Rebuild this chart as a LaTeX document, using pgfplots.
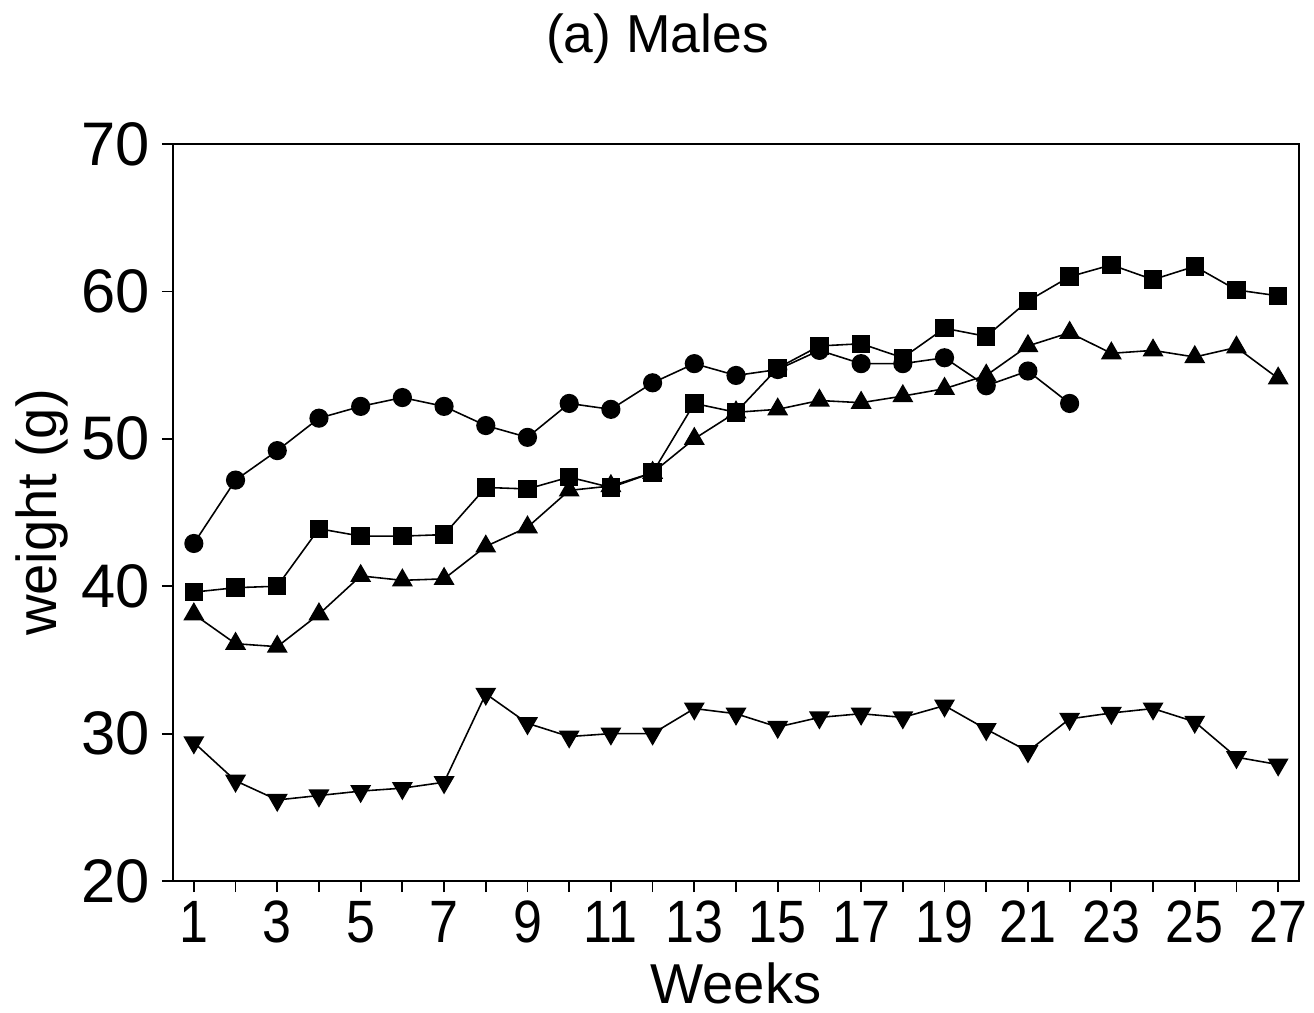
\documentclass[border=0pt]{standalone}
\usepackage{graphicx}
\usepackage{pgfplots}
\pgfplotsset{compat=1.18}
\usepackage{fontspec}
\setmainfont{Liberation Sans}
\begin{document}
\begin{tikzpicture}
\begin{axis}[
  at={(0,0)}, anchor=south west,
  scale only axis, width=112.6mm, height=73.7mm,
  xmin=0.5, xmax=27.5, ymin=20, ymax=70,
  xtick={1,3,...,27}, minor xtick={2,4,...,26},
  ytick={20,30,...,70},
  tick align=outside, xtick pos=bottom, ytick pos=left,
  major tick length=1.1mm, minor tick length=1.1mm,
  tick style={black, line width=0.5pt},
  axis line style={line width=0.6pt},
  /pgf/number format/assume math mode=true,
  yticklabel style={font=\fontsize{17.5}{20}\selectfont},
  xticklabel style={font=\fontsize{17}{20}\selectfont, yshift=1pt},
  xticklabel={\scalebox{0.87}[1]{\pgfmathprintnumber{\tick}}},
]
\addplot[black, line width=0.45pt, mark=*, mark size=2.5pt, mark options={fill=black, solid}] coordinates {
(1,42.9) (2,47.2) (3,49.2) (4,51.4) (5,52.2) (6,52.8) (7,52.2) (8,50.9) (9,50.1) (10,52.4)
(11,52.0) (12,53.8) (13,55.1) (14,54.3) (15,54.7) (16,56.0) (17,55.1) (18,55.1) (19,55.5) (20,53.6)
(21,54.6) (22,52.4)};
\addplot[black, line width=0.45pt, mark=triangle*, mark size=3pt, mark options={fill=black, solid}] coordinates {
(1,38.1) (2,36.1) (3,35.9) (4,38.1) (5,40.7) (6,40.4) (7,40.5) (8,42.7) (9,44.0) (10,46.5)
(11,46.8) (12,47.7) (13,50.0) (14,51.8) (15,52.0) (16,52.6) (17,52.45) (18,52.9) (19,53.4) (20,54.3)
(21,56.3) (22,57.2) (23,55.8) (24,56.0) (25,55.55) (26,56.2) (27,54.1)};
\addplot[black, line width=0.45pt, mark=square*, mark size=2.4pt, mark options={fill=black, solid}] coordinates {
(1,39.6) (2,39.9) (3,40.0) (4,43.9) (5,43.4) (6,43.4) (7,43.5) (8,46.7) (9,46.6) (10,47.4)
(11,46.7) (12,47.7) (13,52.4) (14,51.8) (15,54.8) (16,56.3) (17,56.45) (18,55.5) (19,57.5) (20,56.95)
(21,59.35) (22,61.0) (23,61.8) (24,60.8) (25,61.7) (26,60.1) (27,59.7)};
\addplot[black, line width=0.45pt, mark=triangle*, mark size=3pt, mark options={fill=black, solid, rotate=180}] coordinates {
(1,29.4) (2,26.8) (3,25.5) (4,25.8) (5,26.1) (6,26.3) (7,26.7) (8,32.7) (9,30.7) (10,29.8)
(11,30.0) (12,30.0) (13,31.7) (14,31.35) (15,30.45) (16,31.1) (17,31.35) (18,31.1) (19,31.9) (20,30.3)
(21,28.8) (22,31.0) (23,31.4) (24,31.7) (25,30.8) (26,28.4) (27,27.9)};
\end{axis}
\node[anchor=base, font=\fontsize{15.2}{18}\selectfont] at (48.45mm,82.9mm) {(a) Males};
\node[anchor=base, font=\fontsize{16}{18}\selectfont] at (56.3mm,-12.2mm) {Weeks};
\node[rotate=90, font=\fontsize{16}{18}\selectfont] at (-13.1mm,36.85mm) {weight (g)};
\pgfresetboundingbox
\path[use as bounding box] (-17.3mm,-13.1mm) rectangle (114.1mm,88.1mm);
\end{tikzpicture}
\end{document}
